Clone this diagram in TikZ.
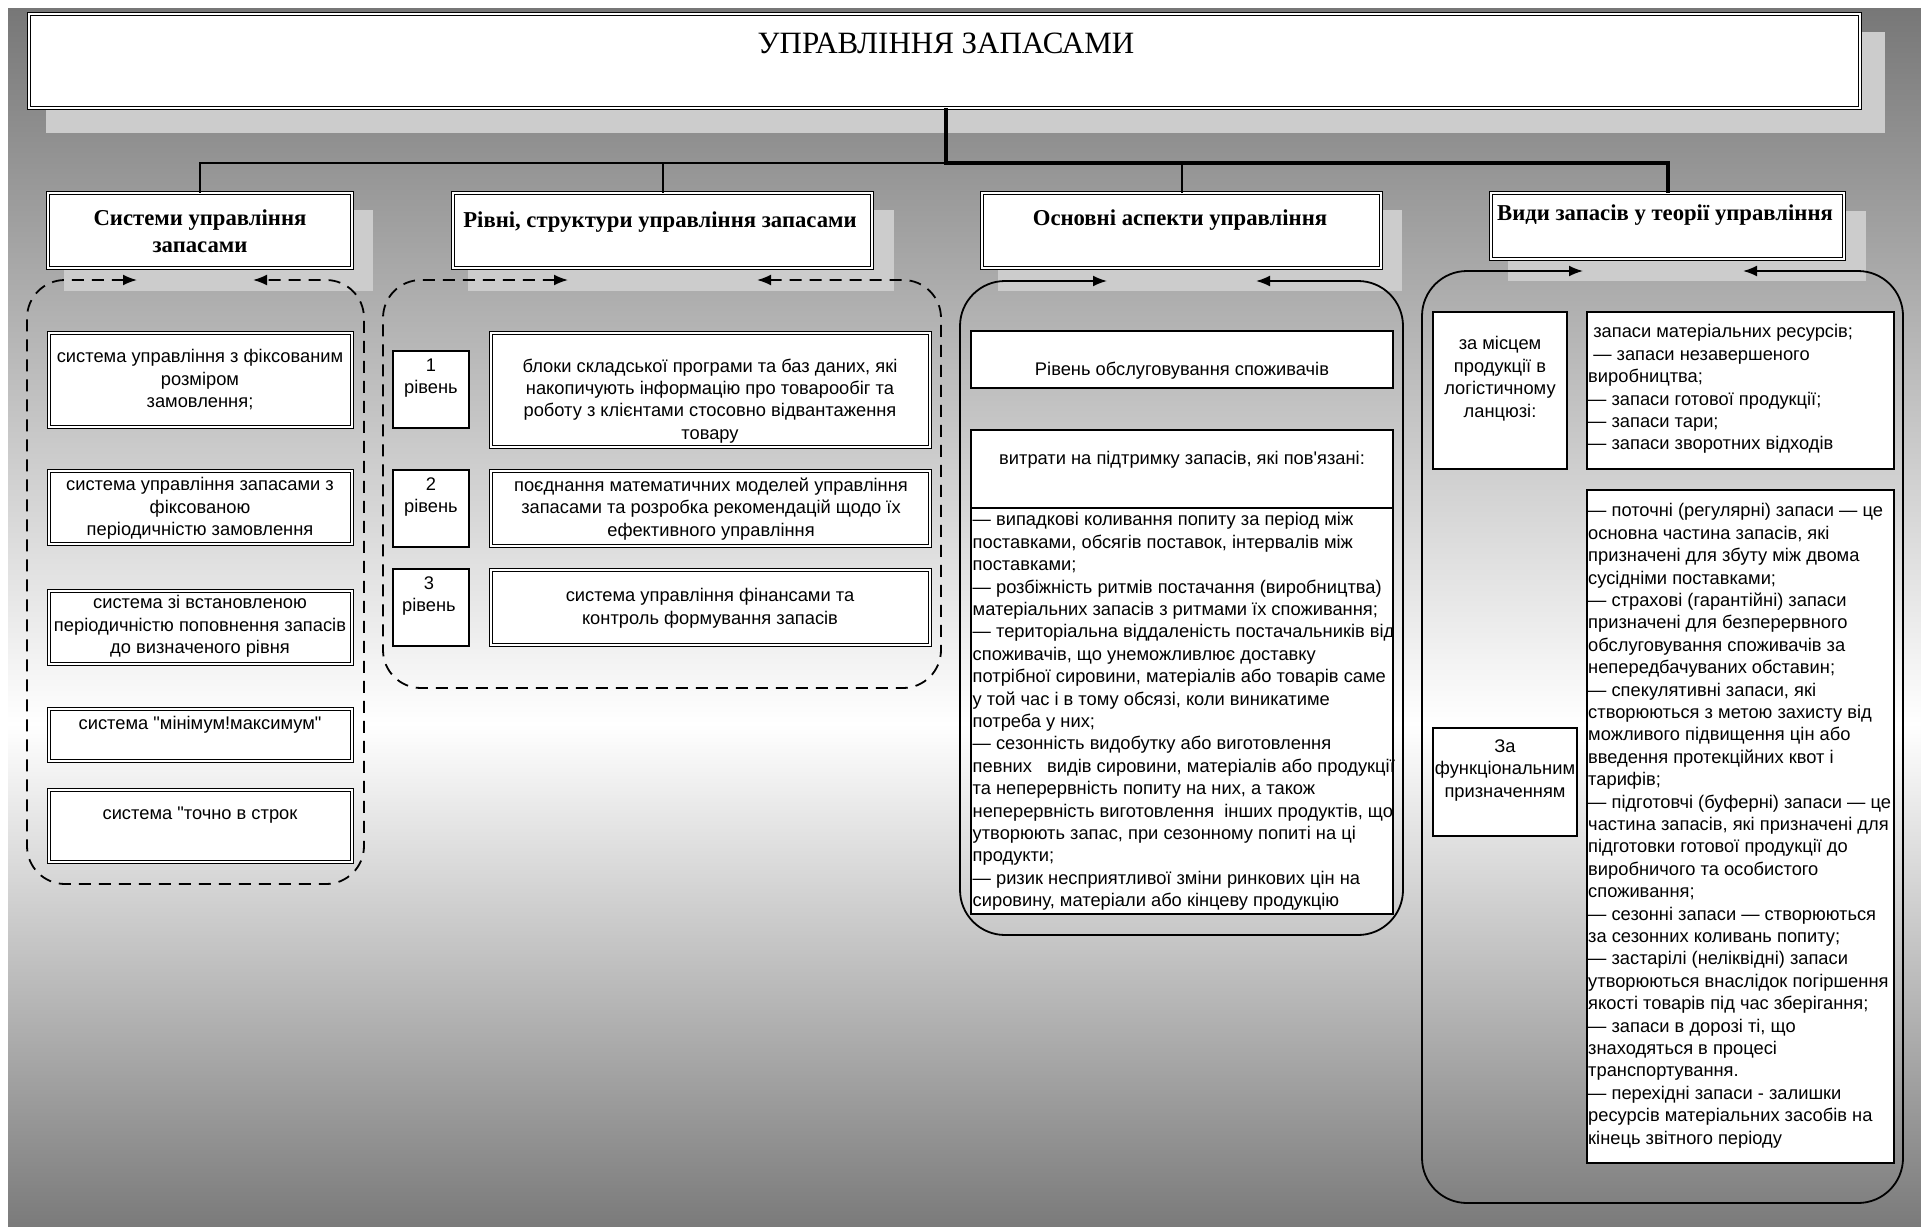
\documentclass[tikz,border=0pt]{standalone}
\usepackage{fontspec}
\setmainfont{Liberation Sans}[Ligatures=TeXOff]
\newfontfamily\tnr{Liberation Serif}
\usetikzlibrary{arrows.meta,positioning}
\definecolor{bgtop}{gray}{0.467}
\definecolor{bgbottom}{gray}{0.48}
\definecolor{shadowgray}{gray}{0.8}

\begin{document}
\begin{tikzpicture}[x=1pt,y=-1pt,
  >={Latex[length=14pt,width=11pt]},
  shadowbox/.style={fill=shadowgray},
  dblbox/.style={draw,fill=white,line width=1.1pt,double=white,double distance=1.8pt,inner sep=0pt,outer sep=0pt,anchor=north west},
  sglbox/.style={draw,fill=white,line width=1.5pt,inner sep=0pt,outer sep=0pt,anchor=north west},
  hdr/.style={font=\tnr\bfseries\fontsize{22.7}{27}\selectfont,inner sep=0pt,align=center},
  txt/.style={font=\fontsize{18.3}{22.4}\selectfont,inner sep=0pt},
  ctxt/.style={txt,align=center,anchor=north},
  ltxt/.style={txt,align=left,anchor=north west},
  thinline/.style={line width=2pt},
  thickline/.style={line width=4pt},
  dcont/.style={line width=1.8pt,dash pattern=on 12pt off 8pt,rounded corners=38pt},
  scont/.style={line width=1.8pt,rounded corners=45pt}]
  \useasboundingbox (0,0) rectangle (1921,1226);
  % background
  \fill[white] (0,0) rectangle (1921,1226);
  \shade[top color=bgtop,bottom color=white] (8,8) rectangle (1921,724.5);
  \shade[top color=white,bottom color=bgbottom] (8,724) rectangle (1921,1226);
  % shadows
  \fill[shadowbox] (46,32) rectangle (1885,133);
  \fill[shadowbox] (64,210) rectangle (373,291);
  \fill[shadowbox] (468,210) rectangle (894,291);
  \fill[shadowbox] (998,210) rectangle (1402,291);
  \fill[shadowbox] (1508,211) rectangle (1866,281);
  % title
  \node[dblbox,line width=1.4pt,minimum width=1831,minimum height=94] (title) at (29,14) {};
  \node[font=\tnr\fontsize{31}{36}\selectfont,inner sep=0pt,anchor=base] (titletxt) at (946,53) {УПРАВЛІННЯ ЗАПАСАМИ};
  % headers
  \node[dblbox,minimum width=304,minimum height=75] (sys) at (48,193) {};
  \node[hdr,anchor=north] (systxt) at (200,209.5) {Системи управління\\запасами};
  \node[dblbox,minimum width=419,minimum height=75] (lvl) at (453,193) {};
  \node[hdr,anchor=base] (lvltxt) at (660,227) {Рівні, структури управління запасами};
  \node[dblbox,minimum width=399,minimum height=75] (asp) at (982,193) {};
  \node[hdr,anchor=base] (asptxt) at (1180,225) {Основні аспекти управління};
  \node[dblbox,minimum width=353,minimum height=66] (kind) at (1491,193) {};
  \node[hdr,anchor=base] (kindtxt) at (1665,220) {Види запасів у теорії управління};
  % connectors
  \coordinate (hub) at (946,163);
  \draw[thinline] (hub) -| (sys.north);
  \draw[thinline] (hub) -| (lvl.north);
  \draw[thinline] (hub) -| (asp.north);
  \draw[thickline] (title.south -| hub) -- (hub) -| (kind.north);
  % column 1
  \draw[dcont,<->] (137,280) -- (27,280) -- (27,884) -- (364,884) -- (364,280) -- (253,280);
  \node[dblbox,minimum width=303,minimum height=94] (sa) at (49,333) {};
  \node[ctxt] (satxt) at (200,349.5) {система управління з фіксованим\\розміром\\замовлення;};
  \node[dblbox,minimum width=303,minimum height=73] (sb) at (49,471) {};
  \node[ctxt] (sbtxt) at (200,477.5) {система управління запасами з\\фіксованою\\періодичністю замовлення};
  \node[dblbox,minimum width=303,minimum height=73] (sc) at (49,591) {};
  \node[ctxt] (sctxt) at (200,595.5) {система зі встановленою\\періодичністю поповнення запасів\\до визначеного рівня};
  \node[dblbox,minimum width=303,minimum height=52] (sd) at (49,709) {};
  \node[ctxt] (sdtxt) at (200,716.5) {система "мінімум!максимум"};
  \node[dblbox,minimum width=303,minimum height=72] (se) at (49,790) {};
  \node[ctxt] (setxt) at (200,806.5) {система "точно в строк};
  % column 2
  \draw[dcont,<->] (568,280) -- (383,280) -- (383,688) -- (941,688) -- (941,280) -- (757,280);
  \node[sglbox,minimum width=76,minimum height=77] (n1) at (393,351) {};
  \node[ctxt] (n1txt) at (431,358.5) {1\\рівень};
  \node[sglbox,minimum width=76,minimum height=77] (n2) at (393,470) {};
  \node[ctxt] (n2txt) at (431,477.5) {2\\рівень};
  \node[sglbox,minimum width=76,minimum height=77] (n3) at (393,569) {};
  \node[ctxt] (n3txt) at (429,576.5) {3\\рівень};
  \node[dblbox,minimum width=439,minimum height=114] (ta) at (491,333) {};
  \node[ctxt] (tatxt) at (710,358.5) {блоки складської програми та баз даних, які\\накопичують інформацію про товарообіг та\\роботу з клієнтами стосовно відвантаження\\товару};
  \node[dblbox,minimum width=439,minimum height=75] (tb) at (491,471) {};
  \node[ctxt] (tbtxt) at (711,477.5) {поєднання математичних моделей управління\\запасами та розробка рекомендацій щодо їх\\ефективного управління};
  \node[dblbox,minimum width=439,minimum height=75] (tc) at (491,570) {};
  \node[ctxt] (tctxt) at (710,588.5) {система управління фінансами та\\контроль формування запасів};
  % column 3
  \draw[scont,<->] (1107,281) -- (960,281) -- (960,935) -- (1403,935) -- (1403,281) -- (1256,281);
  \node[sglbox,minimum width=422,minimum height=57] (ra) at (971,331) {};
  \node[ctxt] (ratxt) at (1182,361.5) {Рівень обслуговування споживачів};
  \node[sglbox,minimum width=422,minimum height=78] (rb) at (971,430) {};
  \node[ctxt] (rbtxt) at (1182,451.5) {витрати на підтримку запасів, які пов'язані:};
  \node[sglbox,minimum width=422,minimum height=406] (rc) at (971,508) {};
  \node[ltxt] (rctxt) at (972.5,512.5) {— випадкові коливання попиту за період між\\поставками, обсягів поставок, інтервалів між\\поставками;\\— розбіжність ритмів постачання (виробництва)\\матеріальних запасів з ритмами їх споживання;\\— територіальна віддаленість постачальників від\\споживачів, що унеможливлює доставку\\потрібної сировини, матеріалів або товарів саме\\у той час і в тому обсязі, коли виникатиме\\потреба у них;\\— сезонність видобутку або виготовлення\\певних\ \ \ видів сировини, матеріалів або продукції\\та неперервність попиту на них, а також\\неперервність виготовлення\ \ інших продуктів, що\\утворюють запас, при сезонному попиті на ці\\продукти;\\— ризик несприятливої зміни ринкових цін на\\сировину, матеріали або кінцеву продукцію};
  % column 4
  \draw[scont,<->] (1583,271) -- (1422,271) -- (1422,1203) -- (1903,1203) -- (1903,271) -- (1743,271);
  \node[sglbox,minimum width=134,minimum height=157] (pa) at (1433,312) {};
  \node[ctxt] (patxt) at (1500,336.5) {за місцем\\продукції в\\логістичному\\ланцюзі:};
  \node[sglbox,minimum width=307,minimum height=157] (pb) at (1587,312) {};
  \node[ltxt] (pbtxt) at (1588,324.5) {\ запаси матеріальних ресурсів;\\\ — запаси незавершеного\\виробництва;\\— запаси готової продукції;\\— запаси тари;\\— запаси зворотних відходів};
  \node[sglbox,minimum width=144,minimum height=108] (pc) at (1433,728) {};
  \node[ctxt] (pctxt) at (1505,739.5) {За\\функціональним\\призначенням};
  \node[sglbox,minimum width=307,minimum height=673] (pd) at (1587,490) {};
  \node[ltxt] (pdtxt) at (1588,503.5) {— поточні (регулярні) запаси — це\\основна частина запасів, які\\призначені для збуту між двома\\сусідніми поставками;\\— страхові (гарантійні) запаси\\призначені для безперервного\\обслуговування споживачів за\\непередбачуваних обставин;\\— спекулятивні запаси, які\\створюються з метою захисту від\\можливого підвищення цін або\\введення протекційних квот і\\тарифів;\\— підготовчі (буферні) запаси — це\\частина запасів, які призначені для\\підготовки готової продукції до\\виробничого та особистого\\споживання;\\— сезонні запаси — створюються\\за сезонних коливань попиту;\\— застарілі (неліквідні) запаси\\утворюються внаслідок погіршення\\якості товарів під час зберігання;\\— запаси в дорозі ті, що\\знаходяться в процесі\\транспортування.\\— перехідні запаси - залишки\\ресурсів матеріальних засобів на\\кінець звітного періоду};
\end{tikzpicture}
\end{document}
